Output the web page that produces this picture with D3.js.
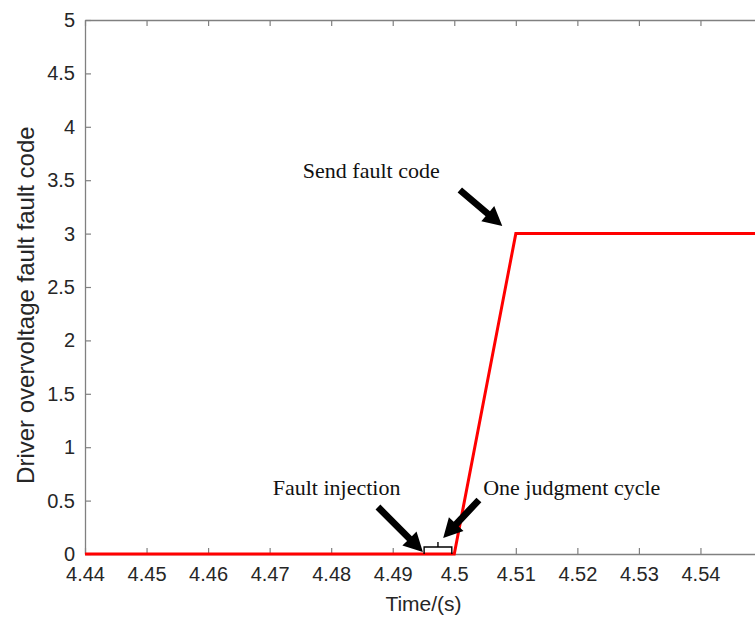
<!DOCTYPE html>
<html lang="en">
<head>
    <meta charset="UTF-8">
    <title>Driver overvoltage fault code</title>
    <script src="https://cdnjs.cloudflare.com/ajax/libs/d3/7.8.5/d3.min.js"></script>
    <style>
        body { margin: 0; background: #fff; }
        svg { display: block; }
        .tick text { font-family: "Liberation Sans", Arial, sans-serif; }
    </style>
</head>
<body>
    <div id="chart"></div>

    <script>
        // signal samples (time in s, fault code)
        const timeValues = [4.44, 4.50, 4.51, 4.55];
        const codeValues = [0, 0, 3, 3];

        // 4.55 sits past the right edge of the picture, so it gets no label
        const xTicks = [4.44, 4.45, 4.46, 4.47, 4.48, 4.49, 4.50, 4.51, 4.52, 4.53, 4.54, 4.55];
        const xLabelled = [4.44, 4.45, 4.46, 4.47, 4.48, 4.49, 4.50, 4.51, 4.52, 4.53, 4.54];
        const yTicks = [0, 0.5, 1, 1.5, 2, 2.5, 3, 3.5, 4, 4.5, 5];

        // annotations, in data units
        const labelTexts = ["Send fault code", "Fault injection", "One judgment cycle"];
        const labelX = [4.4754, 4.4705, 4.5047];
        const labelY = [3.52, 0.552, 0.552];

        const arrowTail = [[4.5009, 3.408], [4.4876, 0.44], [4.5040, 0.506]];
        const arrowTip = [[4.5078, 3.071], [4.4949, 0.019], [4.4982, 0.15]];

        const bracketStart = 4.4951, bracketEnd = 4.4996, bracketHeight = 0.066, bracketPeak = 0.112;

        const width = 755, height = 617;
        const margin = { top: 20, left: 85 };
        const plotW = 677, plotH = 534;

        const svg = d3.select("#chart")
            .append("svg")
            .attr("width", width)
            .attr("height", height);

        const x = d3.scaleLinear().domain([4.44, 4.55]).range([margin.left, margin.left + plotW]);
        const y = d3.scaleLinear().domain([0, 5]).range([margin.top + plotH, margin.top]);

        const axisColor = "#808080";
        const textColor = "#262626";

        function styleAxis(g, showText) {
            g.select(".domain").attr("stroke", axisColor).attr("stroke-width", 1.3);
            g.selectAll(".tick line").attr("stroke", axisColor).attr("stroke-width", 1.2);
            g.selectAll(".tick text")
                .attr("fill", textColor)
                .attr("font-size", 20)
                .style("display", showText ? null : "none");
        }

        const fmt = d => String(+d.toFixed(2));
        const xFmt = d => xLabelled.some(v => Math.abs(v - d) < 1e-9) ? fmt(d) : "";

        // bottom axis, ticks inward
        svg.append("g")
            .attr("transform", `translate(0,${y(0)})`)
            .call(d3.axisBottom(x).tickValues(xTicks).tickFormat(xFmt).tickSizeInner(-6).tickSizeOuter(0).tickPadding(13))
            .call(g => styleAxis(g, true));

        // top axis
        svg.append("g")
            .attr("transform", `translate(0,${y(5)})`)
            .call(d3.axisTop(x).tickValues(xTicks).tickSizeInner(-6).tickSizeOuter(0))
            .call(g => styleAxis(g, false));

        // left axis
        svg.append("g")
            .attr("transform", `translate(${x(4.44)},0)`)
            .call(d3.axisLeft(y).tickValues(yTicks).tickFormat(fmt).tickSizeInner(-6).tickSizeOuter(0).tickPadding(10))
            .call(g => styleAxis(g, true));

        // right axis (lies just past the picture edge)
        svg.append("g")
            .attr("transform", `translate(${x(4.55)},0)`)
            .call(d3.axisRight(y).tickValues(yTicks).tickSizeInner(-6).tickSizeOuter(0))
            .call(g => styleAxis(g, false));

        // axis titles
        svg.append("text")
            .attr("x", (x(4.44) + x(4.55)) / 2)
            .attr("y", 611)
            .attr("text-anchor", "middle")
            .attr("font-family", "Liberation Sans, Arial, sans-serif")
            .attr("font-size", 21)
            .attr("fill", textColor)
            .text("Time/(s)");

        svg.append("text")
            .attr("transform", `translate(34,${y(2.33)}) rotate(-90)`)
            .attr("text-anchor", "middle")
            .attr("font-family", "Liberation Sans, Arial, sans-serif")
            .attr("font-size", 24)
            .attr("fill", textColor)
            .text("Driver overvoltage fault fault code");

        // signal
        const line = d3.line()
            .x((d, i) => x(timeValues[i]))
            .y(d => y(d));

        svg.append("path")
            .datum(codeValues)
            .attr("d", line)
            .attr("fill", "none")
            .attr("stroke", "#ff0000")
            .attr("stroke-width", 3);

        // bracket for one judgment cycle
        const bMid = (bracketStart + bracketEnd) / 2;
        svg.append("path")
            .attr("d", `M${x(bracketStart)},${y(0)} V${y(bracketHeight)} H${x(bracketEnd)} V${y(0)}` +
                       ` M${x(bMid)},${y(bracketHeight)} V${y(bracketPeak)}`)
            .attr("fill", "none")
            .attr("stroke", "#000")
            .attr("stroke-width", 1.4);

        // arrows
        function arrowPoints(t, h) {
            const x1 = x(t[0]), y1 = y(t[1]), x2 = x(h[0]), y2 = y(h[1]);
            const dx = x2 - x1, dy = y2 - y1;
            const len = Math.hypot(dx, dy);
            const ux = dx / len, uy = dy / len;
            const px = -uy, py = ux;
            const shaft = 3.4, head = 10, headLen = 19;
            const bx = x2 - ux * headLen, by = y2 - uy * headLen;
            return [
                [x1 + px * shaft, y1 + py * shaft],
                [bx + px * shaft, by + py * shaft],
                [bx + px * head, by + py * head],
                [x2, y2],
                [bx - px * head, by - py * head],
                [bx - px * shaft, by - py * shaft],
                [x1 - px * shaft, y1 - py * shaft]
            ];
        }

        svg.append("g")
            .selectAll("polygon")
            .data(arrowTail)
            .enter()
            .append("polygon")
            .attr("points", (d, i) => arrowPoints(d, arrowTip[i]).map(p => p.join(",")).join(" "))
            .attr("fill", "#000");

        // annotation labels
        svg.append("g")
            .selectAll("text")
            .data(labelTexts)
            .enter()
            .append("text")
            .attr("x", (d, i) => x(labelX[i]))
            .attr("y", (d, i) => y(labelY[i]))
            .attr("font-family", "Liberation Serif, Times New Roman, serif")
            .attr("font-size", 22)
            .attr("fill", "#111")
            .text(d => d);
    </script>
</body>
</html>
